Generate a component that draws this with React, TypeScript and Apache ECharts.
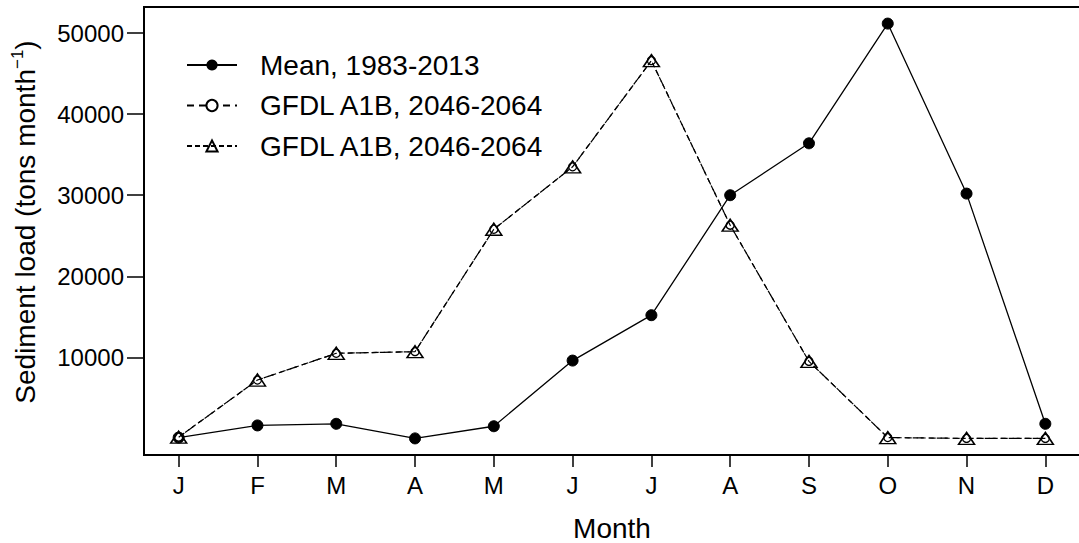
import React, { useEffect, useRef } from "react";
import * as echarts from "echarts";

const months = ["J", "F", "M", "A", "M", "J", "J", "A", "S", "O", "N", "D"];
const monthPos = [1, 2, 3, 4, 5, 6, 7, 8, 9, 10, 11, 12];
const meanLoad = [100, 1600, 1800, 0, 1500, 9600, 15200, 30000, 36400, 51170, 30200, 1800];
const gfdlCircle = [150, 7200, 10500, 10700, 25800, 33500, 46600, 26300, 9500, 100, 0, 0];
const gfdlTriangle = [150, 7200, 10500, 10700, 25800, 33500, 46600, 26300, 9500, 100, 0, 0];
const yTicks = [10000, 20000, 30000, 40000, 50000];
const seriesLabels = ["Mean, 1983-2013", "GFDL A1B, 2046-2064", "GFDL A1B, 2046-2064"];
const seriesIds = ["mean", "gfdl_circle", "gfdl_triangle"];

const FONT = "'Liberation Sans', Arial, sans-serif";

export default function App() {
  const ref = useRef<HTMLDivElement>(null);
  useEffect(() => {
    document.body.style.margin = "0";
    const chart = echarts.init(ref.current!, undefined, { renderer: "svg" });
    const pairs = (arr: number[]) => arr.map((v, i) => [monthPos[i], v]);
    chart.setOption({
      animation: false,
      backgroundColor: "#fff",
      textStyle: { fontFamily: FONT, color: "#000" },
      grid: {
        left: 144,
        top: 7,
        width: 936,
        height: 448,
        show: true,
        borderColor: "#000",
        borderWidth: 2,
        backgroundColor: "transparent",
        containLabel: false,
        outerBoundsMode: "none",
      },
      legend: {
        orient: "vertical",
        left: 186,
        top: 51,
        padding: 0,
        itemWidth: 50,
        itemHeight: 14,
        itemGap: 12.5,
        selectedMode: false,
        textStyle: {
          fontSize: 28,
          lineHeight: 28,
          color: "#000",
          fontFamily: FONT,
          padding: [0, 0, 0, 18],
        },
        formatter: (name: string) => seriesLabels[seriesIds.indexOf(name)],
        data: seriesIds,
      },
      xAxis: {
        type: "value",
        min: 0.56,
        max: 12.44,
        name: "Month",
        nameLocation: "middle",
        nameGap: 59,
        nameTextStyle: { fontSize: 28, color: "#000", fontFamily: FONT },
        axisLine: { show: false, onZero: false },
        splitLine: { show: false },
        axisTick: {
          show: true,
          length: 12,
          customValues: monthPos,
          lineStyle: { color: "#000", width: 1.5 },
        },
        axisLabel: {
          customValues: monthPos,
          formatter: (v: number) => months[Math.round(v) - 1] ?? "",
          fontSize: 24,
          color: "#000",
          margin: 18,
          fontFamily: FONT,
        },
      },
      yAxis: {
        type: "value",
        min: -2047,
        max: 53217,
        name: "{a|Sediment load (tons month}{s|−1}{a|)}",
        nameLocation: "middle",
        nameGap: 102,
        nameTextStyle: {
          fontFamily: FONT,
          padding: [0, 0, 0, 18],
          rich: {
            a: { fontSize: 28, color: "#000", fontFamily: FONT },
            s: { fontSize: 17, color: "#000", fontFamily: FONT, padding: [0, 0, 16, 0] },
          },
        },
        axisLine: { show: false, onZero: false },
        splitLine: { show: false },
        axisTick: {
          show: true,
          length: 17,
          customValues: yTicks,
          lineStyle: { color: "#000", width: 1.5 },
        },
        axisLabel: {
          customValues: yTicks,
          formatter: (v: number) => String(v),
          fontSize: 24,
          color: "#000",
          margin: 20,
          fontFamily: FONT,
        },
      },
      series: [
        {
          name: seriesIds[0],
          type: "line",
          data: pairs(meanLoad),
          symbol: "circle",
          symbolSize: 11,
          itemStyle: { color: "#000", borderColor: "#000" },
          lineStyle: { color: "#000", width: 1.3, type: "solid" },
          z: 3,
        },
        {
          name: seriesIds[1],
          type: "line",
          data: pairs(gfdlCircle),
          symbol: "circle",
          symbolSize: 8,
          itemStyle: { color: "#fff", borderColor: "#000", borderWidth: 1.3 },
          lineStyle: { color: "#000", width: 1.2, type: [7, 5] },
          z: 4,
        },
        {
          name: seriesIds[2],
          type: "line",
          data: pairs(gfdlTriangle),
          symbol: "triangle",
          symbolSize: [16, 12],
          itemStyle: { color: "rgba(255,255,255,0)", borderColor: "#000", borderWidth: 1.5 },
          lineStyle: { color: "#000", width: 1.2, type: [5, 3] },
          z: 5,
        },
      ],
    });
    return () => chart.dispose();
  }, []);
  return <div ref={ref} style={{ width: 1079, height: 543 }} />;
}
